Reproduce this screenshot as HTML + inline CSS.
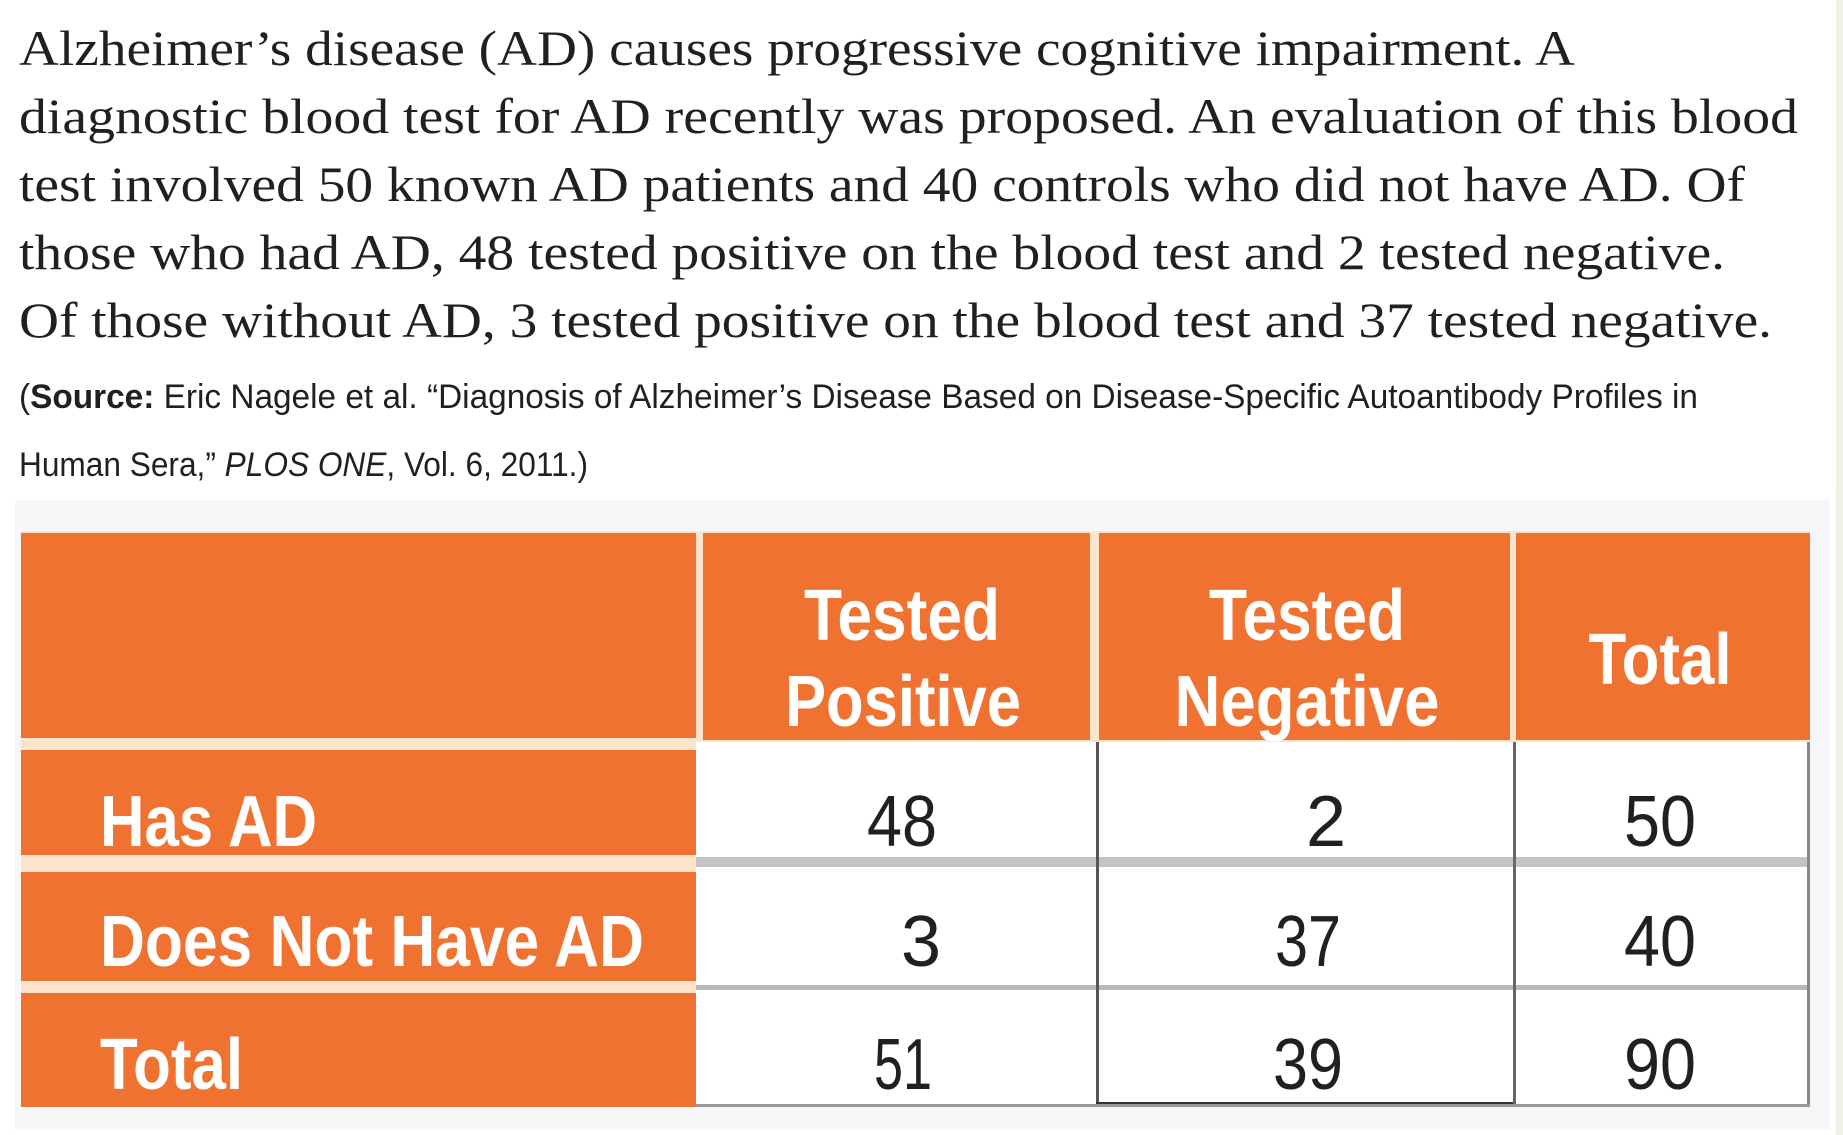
<!DOCTYPE html>
<html><head><meta charset="utf-8"><style>
html,body{margin:0;padding:0;background:#fff;width:1843px;height:1135px;overflow:hidden}
svg{display:block}
.s{font-family:"Liberation Serif",serif;font-size:50px;fill:#231f20}
.c{font-family:"Liberation Sans",sans-serif;font-size:34px;fill:#231f20}
.h{font-family:"Liberation Sans",sans-serif;font-weight:bold;font-size:72px;fill:#fff}
.n{font-family:"Liberation Sans",sans-serif;font-size:72px;fill:#231f20}
</style></head><body>
<svg width="1843" height="1135" viewBox="0 0 1843 1135" xmlns="http://www.w3.org/2000/svg">
<rect x="1836" y="0" width="7" height="1135" fill="#eef3e6"/>
<text class="s" x="19" y="65" textLength="1556" lengthAdjust="spacingAndGlyphs">Alzheimer’s disease (AD) causes progressive cognitive impairment. A</text>
<text class="s" x="19" y="133" textLength="1779" lengthAdjust="spacingAndGlyphs">diagnostic blood test for AD recently was proposed. An evaluation of this blood</text>
<text class="s" x="19" y="201" textLength="1726" lengthAdjust="spacingAndGlyphs">test involved 50 known AD patients and 40 controls who did not have AD. Of</text>
<text class="s" x="19" y="269" textLength="1706" lengthAdjust="spacingAndGlyphs">those who had AD, 48 tested positive on the blood test and 2 tested negative.</text>
<text class="s" x="19" y="337" textLength="1753" lengthAdjust="spacingAndGlyphs">Of those without AD, 3 tested positive on the blood test and 37 tested negative.</text>
<text class="c" x="19" y="408" textLength="1679" lengthAdjust="spacingAndGlyphs">(<tspan font-weight="bold">Source:</tspan> Eric Nagele et al. “Diagnosis of Alzheimer’s Disease Based on Disease-Specific Autoantibody Profiles in</text>
<text class="c" x="19" y="476" textLength="569" lengthAdjust="spacingAndGlyphs">Human Sera,” <tspan font-style="italic">PLOS ONE</tspan>, Vol. 6, 2011.)</text>

<rect x="15" y="500" width="1815" height="630" fill="#f7f6f8"/>
<rect x="21" y="531" width="1789" height="576" fill="#fbe3cc"/>
<!-- header -->
<rect x="21" y="533" width="675" height="205" fill="#f07230"/>
<rect x="703" y="533" width="387" height="207" fill="#f07230"/>
<rect x="1099" y="533" width="411" height="207" fill="#f07230"/>
<rect x="1516" y="533" width="294" height="207" fill="#f07230"/>
<!-- left label column -->
<rect x="21" y="750" width="675" height="105" fill="#f07230"/>
<rect x="21" y="872" width="675" height="109" fill="#f07230"/>
<rect x="21" y="993" width="675" height="114" fill="#f07230"/>
<!-- data area -->
<rect x="696" y="742" width="1114" height="365" fill="#fff"/>
<rect x="696" y="857" width="1114" height="10" fill="#c4c4c4"/>
<rect x="696" y="985" width="1114" height="5" fill="#b8b8b8"/>
<rect x="1096" y="742" width="3" height="365" fill="#555"/>
<rect x="1513" y="742" width="3" height="365" fill="#666"/>
<rect x="1807" y="742" width="3" height="365" fill="#888"/>
<rect x="1096" y="1102" width="417" height="4" fill="#333"/>
<rect x="696" y="1104" width="1114" height="3" fill="#999"/>

<text class="h" x="902" y="640" text-anchor="middle" textLength="196" lengthAdjust="spacingAndGlyphs">Tested</text>
<text class="h" x="903" y="726" text-anchor="middle" textLength="236" lengthAdjust="spacingAndGlyphs">Positive</text>
<text class="h" x="1307" y="640" text-anchor="middle" textLength="196" lengthAdjust="spacingAndGlyphs">Tested</text>
<text class="h" x="1307" y="726" text-anchor="middle" textLength="265" lengthAdjust="spacingAndGlyphs">Negative</text>
<text class="h" x="1660" y="684" text-anchor="middle" textLength="143" lengthAdjust="spacingAndGlyphs">Total</text>

<text class="h" x="100" y="846" textLength="217" lengthAdjust="spacingAndGlyphs">Has AD</text>
<text class="h" x="100" y="966" textLength="544" lengthAdjust="spacingAndGlyphs">Does Not Have AD</text>
<text class="h" x="100" y="1089" textLength="143" lengthAdjust="spacingAndGlyphs">Total</text>

<g class="n" text-anchor="middle">
<text x="902" y="846" textLength="70" lengthAdjust="spacingAndGlyphs">48</text>
<text x="1326" y="846">2</text>
<text x="1660" y="846" textLength="72" lengthAdjust="spacingAndGlyphs">50</text>
<text x="921" y="966">3</text>
<text x="1308" y="966" textLength="66" lengthAdjust="spacingAndGlyphs">37</text>
<text x="1660" y="966" textLength="72" lengthAdjust="spacingAndGlyphs">40</text>
<text x="903" y="1089" textLength="58" lengthAdjust="spacingAndGlyphs">51</text>
<text x="1308" y="1089" textLength="70" lengthAdjust="spacingAndGlyphs">39</text>
<text x="1660" y="1089" textLength="72" lengthAdjust="spacingAndGlyphs">90</text>
</g>
</svg>
</body></html>
